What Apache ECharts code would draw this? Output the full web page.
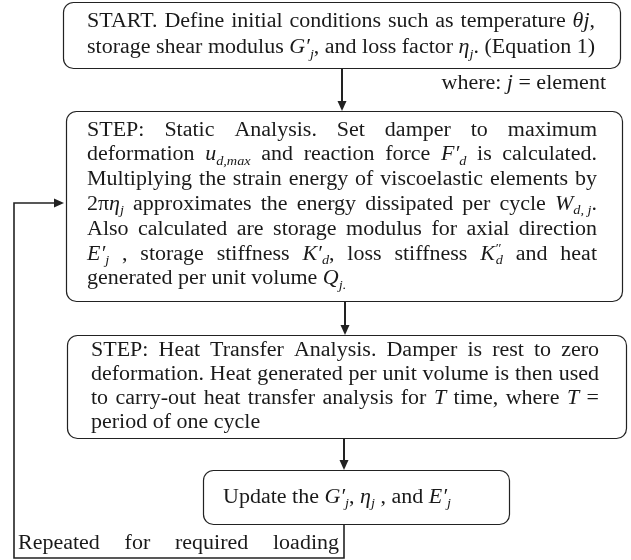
<!DOCTYPE html>
<html>
<head>
<meta charset="utf-8">
<script src="https://cdn.jsdelivr.net/npm/echarts@6/dist/echarts.min.js"></script>
<style>
  html, body { margin: 0; padding: 0; background: #fff; }
  #main { width: 631px; height: 560px; }
</style>
</head>
<body>
<div id="main"></div>
<script>
// text of the flowchart, one string per printed line
// *..* = italic, _{..} = subscript, ^{..} = superscript (stacked when a subscript follows)
const startLines = [
  'START. Define initial conditions such as temperature *θj*,',
  'storage shear modulus *G′*_{j}, and loss factor *η*_{j}. (Equation 1)'
]
const staticLines = [
  'STEP: Static Analysis. Set damper to maximum',
  'deformation *u*_{d,max} and reaction force *F′*_{d} is calculated.',
  'Multiplying the strain energy of viscoelastic elements by',
  '2π*η*_{j} approximates the energy dissipated per cycle *W*_{d,\u00a0j}.',
  'Also calculated are storage modulus for axial direction',
  '*E′*_{j} , storage stiffness *K′*_{d}, loss stiffness *K*^{″}_{d} and heat',
  'generated per unit volume *Q*_{j.}'
]
const heatLines = [
  'STEP: Heat Transfer Analysis. Damper is rest to zero',
  'deformation. Heat generated per unit volume is then used',
  'to carry-out heat transfer analysis for *T* time, where *T* =',
  'period of one cycle'
]
const updateLines = ['Update the *G′*_{j}, *η*_{j} , and *E′*_{j}']
const noteText = 'where: *j* = element'
const loopText = 'Repeated for required loading'

const FONT = '"Liberation Serif", "Times New Roman", serif'
const SIZE = 20
const SUB = 13
const SX = 1.1 // the source figure is a little wider than Times at this size
const MID = 0.3375 // canvas 'middle' baseline above alphabetic, in em
const INK = '#1a1a1a'
const LINE = '#222'

const ctx = document.createElement('canvas').getContext('2d')
const fontOf = (italic, size) => (italic ? 'italic ' : '') + size + 'px ' + FONT
const textWidth = (t, italic, size) => {
  ctx.font = fontOf(italic, size)
  return ctx.measureText(t).width * SX
}

function parseWord (word) {
  const runs = []
  let italic = false
  let buf = ''
  let i = 0
  const flush = () => {
    if (buf) runs.push({ t: buf, kind: italic ? 'i' : 'n' })
    buf = ''
  }
  while (i < word.length) {
    const c = word[i]
    if (c === '*') {
      flush(); italic = !italic; i++
    } else if ((c === '_' || c === '^') && word[i + 1] === '{') {
      flush()
      const end = word.indexOf('}', i)
      runs.push({ t: word.slice(i + 2, end), kind: c === '_' ? 'sub' : 'sup' })
      i = end + 1
    } else {
      buf += c; i++
    }
  }
  flush()
  return runs
}

function layoutWord (runs) {
  const items = []
  let x = 0
  for (let k = 0; k < runs.length; k++) {
    const r = runs[k]
    if (r.kind === 'sup' && runs[k + 1] && runs[k + 1].kind === 'sub') {
      const s = runs[k + 1]
      items.push(Object.assign({ dx: x }, r), Object.assign({ dx: x + 1 }, s))
      x += Math.max(textWidth(r.t, true, SUB), textWidth(s.t, true, SUB) + 1)
      k++
    } else {
      const small = r.kind === 'sub' || r.kind === 'sup'
      items.push(Object.assign({ dx: x }, r))
      x += textWidth(r.t, r.kind !== 'n', small ? SUB : SIZE)
    }
  }
  return { items, width: x }
}

function placeLine (str, x0, x1, baseline, mode) {
  const words = str.split(' ').map(w => layoutWord(parseWord(w)))
  const total = words.reduce((a, w) => a + w.width, 0)
  const space = textWidth(' ', false, SIZE)
  let gap = space
  let x = x0
  if (mode === 'justify' && words.length > 1) gap = (x1 - x0 - total) / (words.length - 1)
  if (mode === 'right') x = x1 - total - space * (words.length - 1)
  const out = []
  words.forEach(w => {
    w.items.forEach(it => {
      const small = it.kind === 'sub' || it.kind === 'sup'
      const size = small ? SUB : SIZE
      const shift = it.kind === 'sub' ? 4 : it.kind === 'sup' ? -8 : 0
      out.push({
        type: 'text',
        x: x + it.dx,
        y: baseline + shift - MID * size,
        scaleX: SX,
        silent: true,
        style: { text: it.t, font: fontOf(it.kind !== 'n', size), fill: INK, align: 'left', verticalAlign: 'middle' }
      })
    })
    x += w.width + gap
  })
  return out
}

function paragraph (lines, x0, x1, top, step, lastJustify) {
  let out = []
  lines.forEach((l, i) => {
    const last = i === lines.length - 1
    out = out.concat(placeLine(l, x0, x1, top + step * i, last && !lastJustify ? 'left' : 'justify'))
  })
  return out
}

function box (x, y, w, h) {
  return {
    type: 'rect',
    silent: true,
    shape: { x: x + 0.5, y: y + 0.5, width: w, height: h, r: 10 },
    style: { fill: '#fff', stroke: LINE, lineWidth: 1.2 }
  }
}

function arrowDown (x, y0, y1) {
  return [
    { type: 'line', silent: true, shape: { x1: x, y1: y0, x2: x, y2: y1 - 8 }, style: { stroke: LINE, lineWidth: 2 } },
    { type: 'polygon', silent: true, shape: { points: [[x - 4.5, y1 - 10], [x + 4.5, y1 - 10], [x, y1]] }, style: { fill: LINE } }
  ]
}

const chart = echarts.init(document.getElementById('main'), null, { renderer: 'canvas' })

let graphics = [
  box(63, 2, 557, 66),
  box(66, 111, 556, 190),
  box(67, 335, 559, 103),
  box(203, 470, 306, 54)
]
graphics = graphics.concat(
  arrowDown(342, 68, 111),
  arrowDown(345, 301, 335),
  arrowDown(344, 438, 470),
  [
    {
      type: 'polyline',
      silent: true,
      shape: { points: [[344, 524], [344, 558], [14, 558], [14, 203], [56, 203]] },
      style: { stroke: LINE, lineWidth: 1.6, fill: null }
    },
    { type: 'polygon', silent: true, shape: { points: [[54, 198.5], [54, 207.5], [64, 203]] }, style: { fill: LINE } }
  ],
  paragraph(startLines, 87, 595, 28, 26.5, true),
  paragraph(staticLines, 87, 597, 137, 24.8, false),
  paragraph(heatLines, 91, 599, 357, 24.3, false),
  placeLine(updateLines[0], 223, 500, 504, 'left'),
  placeLine(noteText, 0, 606, 90, 'right'),
  placeLine(loopText, 18, 339, 550, 'justify')
)

chart.setOption({
  backgroundColor: '#fff',
  animation: false,
  graphic: { elements: graphics }
})
</script>
</body>
</html>
